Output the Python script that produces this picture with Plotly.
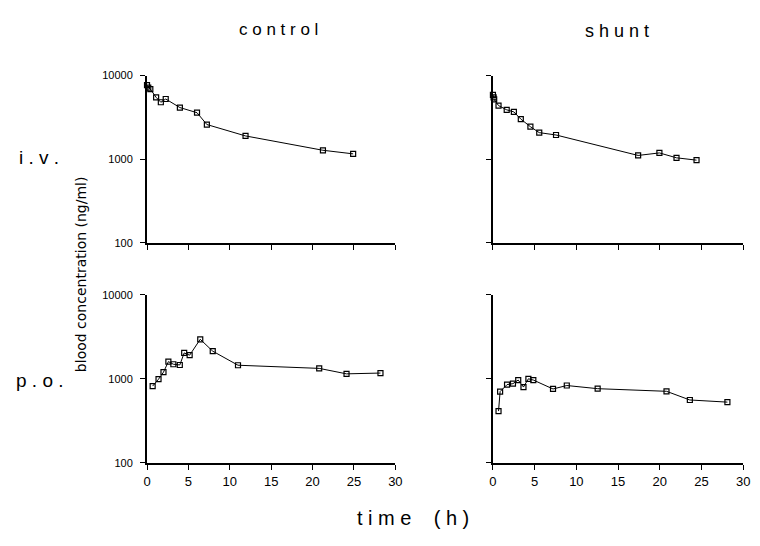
import plotly.graph_objects as go

# Control, i.v.
ctrl_iv_t = [0.0, 0.15, 0.4, 1.1, 1.67, 2.26, 3.97, 6.04, 7.23, 11.9, 21.25, 24.9]
ctrl_iv_c = [7700, 7200, 6900, 5500, 4800, 5250, 4150, 3600, 2600, 1900, 1280, 1160]

# Shunt, i.v.
shunt_iv_t = [0.0, 0.08, 0.15, 0.67, 1.65, 2.51, 3.34, 4.49, 5.55, 7.56, 17.4, 19.95, 22.0, 24.4]
shunt_iv_c = [5900, 5500, 5200, 4380, 3900, 3680, 3020, 2450, 2080, 1950, 1110, 1190, 1040, 975]

# Control, p.o.
ctrl_po_t = [0.68, 1.39, 1.99, 2.58, 3.18, 3.96, 4.49, 5.15, 6.43, 7.94, 10.99, 20.8, 24.1, 28.2]
ctrl_po_c = [820, 990, 1200, 1600, 1490, 1460, 2030, 1910, 2950, 2130, 1450, 1330, 1145, 1170]

# Shunt, p.o.
shunt_po_t = [0.67, 0.86, 1.69, 2.40, 3.03, 3.66, 4.25, 4.84, 7.2, 8.85, 12.55, 20.8, 23.6, 28.1]
shunt_po_c = [413, 705, 853, 876, 967, 798, 1000, 967, 757, 832, 763, 710, 560, 528]

x_ticks = [0, 5, 10, 15, 20, 25, 30]
y_ticks = [100, 1000, 10000]
y_tick_text = ["100", "1000", "10000"]

W, H = 760, 546
OFF = 8  # page body margin
FONT = "Liberation Sans"

fig = go.Figure()

panels = [
    (ctrl_iv_t, ctrl_iv_c, "x", "y"),
    (shunt_iv_t, shunt_iv_c, "x2", "y2"),
    (ctrl_po_t, ctrl_po_c, "x3", "y3"),
    (shunt_po_t, shunt_po_c, "x4", "y4"),
]
for t, c, xa, ya in panels:
    fig.add_trace(go.Scatter(
        x=t, y=c, xaxis=xa, yaxis=ya, mode="lines+markers",
        line=dict(color="black", width=1),
        marker=dict(symbol="square-open", size=5, color="black",
                    line=dict(width=1.2, color="black")),
        cliponaxis=False, showlegend=False,
    ))

def xdom(a, b):
    return [(a - OFF) / W, (b - OFF) / W]

def ydom(top, bottom):
    return [1 - (bottom - OFF) / H, 1 - (top - OFF) / H]

xl = xdom(145, 397)
xr = xdom(496, 750)
yt = ydom(71, 242)
yb = ydom(295, 467)

def xaxis(dom, anchor, labels):
    return dict(domain=dom, anchor=anchor, range=[0, 30], tickvals=x_ticks,
                showticklabels=labels, ticks="outside", ticklen=5, tickwidth=1,
                tickcolor="black", showline=True, linecolor="black", linewidth=2,
                showgrid=False, zeroline=False,
                tickfont=dict(family=FONT, size=13, color="black"))

def yaxis(dom, anchor, labels):
    return dict(domain=dom, anchor=anchor, type="log", range=[2, 4],
                tickvals=y_ticks, ticktext=y_tick_text,
                showticklabels=labels, ticks="outside", ticklen=5, tickwidth=1,
                tickcolor="black", showline=True, linecolor="black", linewidth=2,
                showgrid=False, zeroline=False, ticklabelstandoff=5,
                tickfont=dict(family=FONT, size=11, color="black"))

fig.update_layout(
    width=W, height=H,
    margin=dict(l=0, r=0, t=0, b=0),
    paper_bgcolor="white", plot_bgcolor="white",
    font=dict(family=FONT, color="black"),
    xaxis=xaxis(xl, "y", False),
    yaxis=yaxis(yt, "x", True),
    xaxis2=xaxis(xr, "y2", False),
    yaxis2=yaxis(yt, "x2", False),
    xaxis3=xaxis(xl, "y3", True),
    yaxis3=yaxis(yb, "x3", True),
    xaxis4=xaxis(xr, "y4", True),
    yaxis4=yaxis(yb, "x4", False),
)

def ann(text, x, y, size, angle=0, family=FONT):
    fig.add_annotation(text=text, x=(x - OFF) / W, y=1 - (y - OFF) / H,
                       xref="paper", yref="paper",
                       showarrow=False, textangle=angle,
                       font=dict(family=family, size=size, color="black"),
                       xanchor="center", yanchor="middle")

ann("c o n t r o l", 278, 24, 17)
ann("s h u n t", 622, 25, 18)
ann("i . v .", 35, 155, 19)
ann("p . o .", 36, 383, 19)
ann("blood concentration (ng/ml)", 78, 274, 14, angle=-90, family="DejaVu Sans")
ann("t i m e    ( h )", 415, 523, 20)

fig.write_html("out.html")
